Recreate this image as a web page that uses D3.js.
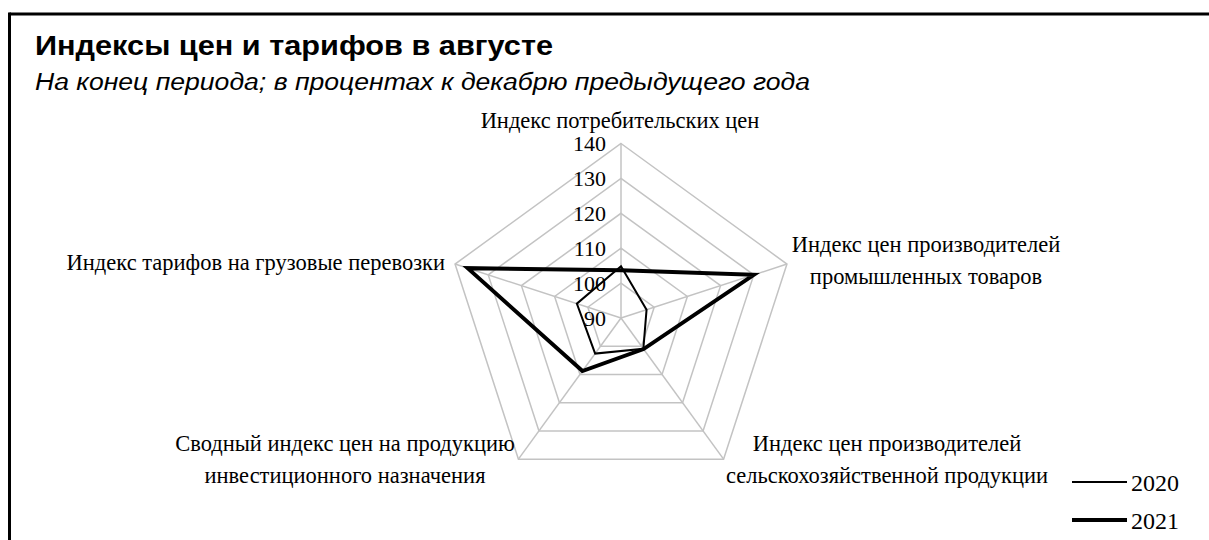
<!DOCTYPE html>
<html><head><meta charset="utf-8">
<script src="https://cdn.jsdelivr.net/npm/d3@7/dist/d3.min.js"></script>
<style>
body{margin:0;background:#fff;}
svg{display:block;}
</style></head>
<body>
<svg id="c" width="1209" height="540"></svg>
<script>
const categories = [
  ["Индекс потребительских цен"],
  ["Индекс цен производителей", "промышленных товаров"],
  ["Индекс цен производителей", "сельскохозяйственной продукции"],
  ["Сводный индекс цен на продукцию", "инвестиционного назначения"],
  ["Индекс тарифов на грузовые перевозки"]
];
const seriesNames = ["2020", "2021"];
const values2020 = [104.8, 97.7, 100.9, 102.6, 103.3];
const values2021 = [103.7, 130.0, 101.0, 108.8, 136.2];
const tickValues = [90, 100, 110, 120, 130, 140];

const svg = d3.select("#c");
const cx = 621, cy = 318;
const r = d3.scaleLinear().domain([90, 140]).range([0, 174.5]);
const ang = d3.scaleLinear().domain([0, categories.length]).range([0, 2 * Math.PI]);
const pt = (i, v) => [cx + r(v) * Math.sin(ang(i)), cy - r(v) * Math.cos(ang(i))];

// frame
svg.append("line").attr("x1", 9.5).attr("y1", 14).attr("x2", 1209).attr("y2", 14).attr("stroke", "#000").attr("stroke-width", 3);
svg.append("line").attr("x1", 9.5).attr("y1", 12.5).attr("x2", 9.5).attr("y2", 540).attr("stroke", "#000").attr("stroke-width", 3);

// title
const sans = "Liberation Sans, Arial, sans-serif";
svg.append("text").attr("x", 35).attr("y", 55).attr("font-family", sans).attr("font-weight", "bold")
  .attr("font-size", 28).attr("textLength", 518).attr("lengthAdjust", "spacingAndGlyphs")
  .text("Индексы цен и тарифов в августе");
svg.append("text").attr("x", 35).attr("y", 90).attr("font-family", sans).attr("font-style", "italic").attr("font-size", 23)
  .attr("textLength", 775).attr("lengthAdjust", "spacingAndGlyphs")
  .text("На конец периода; в процентах к декабрю предыдущего года");

// grid rings
const gridG = svg.append("g");
tickValues.slice(1).forEach(v => {
  const pts = categories.map((c, i) => pt(i, v));
  gridG.append("polygon").attr("points", pts.map(p => p.join(",")).join(" "))
    .attr("fill", "none").attr("stroke", "#c3c3c3").attr("stroke-width", 1.5);
});
categories.forEach((c, i) => {
  const p = pt(i, 140);
  gridG.append("line").attr("x1", cx).attr("y1", cy).attr("x2", p[0]).attr("y2", p[1])
    .attr("stroke", "#c3c3c3").attr("stroke-width", 1.5);
});

// tick labels
const serif = "Liberation Serif, Times New Roman, serif";
tickValues.forEach(v => {
  svg.append("text").attr("x", cx - 15).attr("y", cy - r(v)).attr("dy", "0.35em")
    .attr("text-anchor", "end").attr("font-family", serif).attr("font-size", 22).attr("fill", "#000").text(v);
});

// series
const line = d3.line().curve(d3.curveLinearClosed);
const series = [
  {name: seriesNames[0], vals: values2020, w: 2},
  {name: seriesNames[1], vals: values2021, w: 4}
];
series.forEach(s => {
  svg.append("path").attr("d", line(s.vals.map((v, i) => pt(i, v))))
    .attr("fill", "none").attr("stroke", "#000").attr("stroke-width", s.w).attr("stroke-linejoin", "miter");
});

// category labels
const labelPos = [
  {x: 620, y: 128, anchor: "middle"},
  {x: 926, y: 252, anchor: "middle"},
  {x: 887, y: 451, anchor: "middle"},
  {x: 345, y: 451, anchor: "middle"},
  {x: 445, y: 270, anchor: "end"}
];
categories.forEach((c, i) => {
  const lp = labelPos[i];
  const tx = svg.append("text").attr("font-family", serif).attr("font-size", 22.5).attr("text-anchor", lp.anchor);
  c.forEach((ln, k) => {
    tx.append("tspan").attr("x", lp.x).attr("y", lp.y + k * 32).text(ln);
  });
});

// legend
series.forEach((s, k) => {
  const y = 482 + k * 38;
  svg.append("line").attr("x1", 1072).attr("x2", 1127).attr("y1", y).attr("y2", y).attr("stroke", "#000").attr("stroke-width", s.w);
  svg.append("text").attr("x", 1131).attr("y", y + 8.5).attr("font-family", serif).attr("font-size", 24).text(s.name);
});
</script>
</body></html>
